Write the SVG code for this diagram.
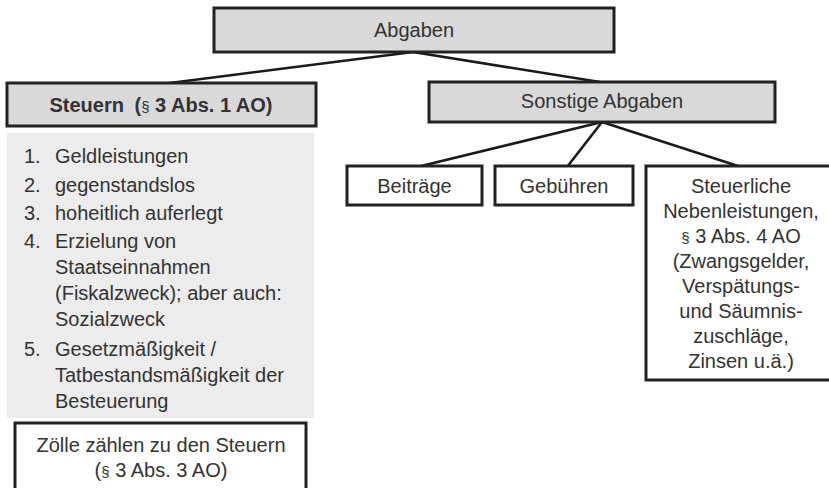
<svg xmlns="http://www.w3.org/2000/svg" width="829" height="488" viewBox="0 0 829 488">
<style>
text{font-family:"Liberation Sans",Arial,sans-serif;font-size:20px;fill:#333}
.c{text-anchor:middle}
.b{font-weight:bold}
.hdr{fill:#d9d9d9;stroke:#222;stroke-width:3}
.box{fill:#fff;stroke:#222;stroke-width:3}
.list{fill:#ececec;stroke:none}
.con line{stroke:#1a1a1a;stroke-width:2.6}
.sec{font-size:15px}
</style>
<rect width="829" height="488" fill="#fff"/>
<g class="con" id="connectors">
<line x1="413" y1="52" x2="162" y2="84"/>
<line x1="413" y1="52" x2="600" y2="82"/>
<line x1="602" y1="122" x2="417" y2="167"/>
<line x1="602" y1="122" x2="567" y2="167"/>
<line x1="602" y1="122" x2="738" y2="166"/>
</g>
<g id="abgaben">
<rect class="hdr" x="214" y="8" width="400" height="44"/>
<text class="c" x="414" y="37">Abgaben</text>
</g>
<g id="steuern">
<rect class="hdr" x="7" y="83" width="309" height="43"/>
<text class="c b" x="161" y="112">Steuern <tspan dx="5">(</tspan><tspan class="sec" font-weight="normal">§</tspan> 3 Abs. 1 AO)</text>
</g>
<g id="merkmale">
<rect class="list" x="7" y="133" width="307" height="285"/>
<text x="24" y="163">1.</text><text x="55" y="163">Geldleistungen</text>
<text x="24" y="192">2.</text><text x="55" y="192">gegenstandslos</text>
<text x="24" y="220">3.</text><text x="55" y="220">hoheitlich auferlegt</text>
<text x="24" y="248">4.</text><text x="55" y="248">Erzielung von</text>
<text x="55" y="274">Staatseinnahmen</text>
<text x="55" y="300">(Fiskalzweck); aber auch:</text>
<text x="55" y="326">Sozialzweck</text>
<text x="24" y="356">5.</text><text x="55" y="356">Gesetzmäßigkeit /</text>
<text x="55" y="382">Tatbestandsmäßigkeit der</text>
<text x="55" y="408">Besteuerung</text>
</g>
<g id="zoelle">
<rect class="box" x="15" y="423" width="291" height="75"/>
<text class="c" x="161" y="452">Zölle zählen zu den Steuern</text>
<text class="c" x="161" y="477">(<tspan class="sec">§</tspan> 3 Abs. 3 AO)</text>
</g>
<g id="sonstige">
<rect class="hdr" x="429" y="82" width="346" height="40"/>
<text class="c" x="602" y="108">Sonstige Abgaben</text>
</g>
<g id="beitraege">
<rect class="box" x="347" y="166" width="135" height="39"/>
<text class="c" x="414.5" y="193">Beiträge</text>
</g>
<g id="gebuehren">
<rect class="box" x="495" y="166" width="138" height="39"/>
<text class="c" x="564" y="193">Gebühren</text>
</g>
<g id="nebenleistungen">
<rect class="box" x="646" y="166" width="192" height="214"/>
<text class="c" x="741" y="193">Steuerliche</text>
<text class="c" x="741" y="218">Nebenleistungen,</text>
<text class="c" x="741" y="243"><tspan class="sec">§</tspan> 3 Abs. 4 AO</text>
<text class="c" x="741" y="268">(Zwangsgelder,</text>
<text class="c" x="741" y="293">Verspätungs-</text>
<text class="c" x="741" y="318">und Säumnis-</text>
<text class="c" x="741" y="343">zuschläge,</text>
<text class="c" x="741" y="368">Zinsen u.ä.)</text>
</g>
</svg>
